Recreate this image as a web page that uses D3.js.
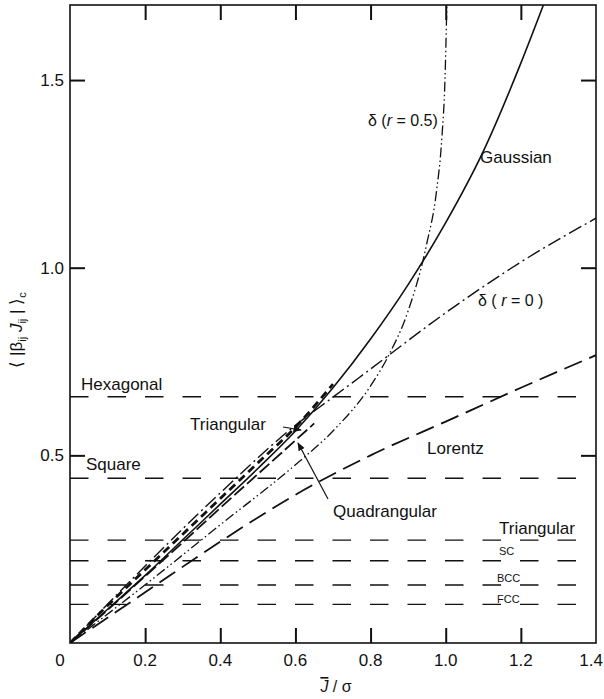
<!DOCTYPE html>
<html>
<head>
<meta charset="utf-8">
<script src="https://cdn.jsdelivr.net/npm/d3@7"></script>
<style>
  html, body { margin: 0; padding: 0; background: #fff; }
  svg { display: block; }
  text { font-family: "Liberation Sans", Arial, sans-serif; fill: #111; }
</style>
</head>
<body>
<svg id="chart" width="604" height="699"></svg>
<script>
// ---------------- data ----------------
const xTickValues = [0.2, 0.4, 0.6, 0.8, 1.0, 1.2];
const xTickLabels = ["0", "0.2", "0.4", "0.6", "0.8", "1.0", "1.2", "1.4"];
const xTickLabelValues = [0, 0.2, 0.4, 0.6, 0.8, 1.0, 1.2, 1.4];
const yTickValues = [0.5, 1.0, 1.5];
const yTickLabels = ["0.5", "1.0", "1.5"];

const latticeNames  = ["Hexagonal", "Square", "Triangular", "SC", "BCC", "FCC"];
const latticeValues = [0.656, 0.439, 0.274, 0.219, 0.1545, 0.103];

const gaussianX = [0, 0.1, 0.2, 0.3, 0.4, 0.5, 0.6, 0.7, 0.8, 0.9, 1.0, 1.1, 1.2, 1.26];
const gaussianY = [0, 0.09, 0.18, 0.275, 0.37, 0.465, 0.565, 0.68, 0.81, 0.955, 1.12, 1.31, 1.545, 1.7];

const deltaR05X = [0, 0.2, 0.4, 0.6, 0.7, 0.8, 0.85, 0.9, 0.95, 0.975, 0.99, 0.998, 1.003];
const deltaR05Y = [0, 0.155, 0.315, 0.475, 0.565, 0.685, 0.77, 0.885, 1.066, 1.2, 1.35, 1.5, 1.7];

const deltaR0X = [0, 0.2, 0.4, 0.6, 0.7, 0.8, 1.0, 1.2, 1.4];
const deltaR0Y = [0, 0.205, 0.4, 0.58, 0.655, 0.73, 0.88, 1.015, 1.132];

const lorentzX = [0, 0.2, 0.4, 0.6, 0.8, 1.0, 1.2, 1.4];
const lorentzY = [0, 0.135, 0.27, 0.395, 0.5, 0.59, 0.68, 0.767];

const triangularX = [0, 0.1, 0.2, 0.3, 0.4, 0.5, 0.6, 0.7];
const triangularY = [0, 0.1, 0.195, 0.29, 0.385, 0.48, 0.575, 0.69];

const quadrangularX = [0, 0.1, 0.2, 0.3, 0.4, 0.5, 0.6, 0.65];
const quadrangularY = [0, 0.088, 0.178, 0.268, 0.36, 0.45, 0.54, 0.585];

// ---------------- layout ----------------
const svg = d3.select("#chart");
const mLeft = 70, mRight = 596, mTop = 5, mBottom = 643;
const x = d3.scaleLinear().domain([0, 1.4]).range([mLeft, mRight]);
const y = d3.scaleLinear().domain([0, 1.7]).range([mBottom, mTop]);

const defs = svg.append("defs");
defs.append("clipPath").attr("id", "clip")
  .append("rect").attr("x", mLeft).attr("y", mTop)
  .attr("width", mRight - mLeft).attr("height", mBottom - mTop);

defs.append("marker")
  .attr("id", "arrow").attr("viewBox", "0 0 10 10")
  .attr("refX", 9).attr("refY", 5)
  .attr("markerWidth", 7).attr("markerHeight", 7)
  .attr("orient", "auto")
  .append("path").attr("d", "M0,1 L10,5 L0,9 z").attr("fill", "#111");

// axes (inward ticks)
const tickStyle = g => {
  g.select(".domain").remove();
  g.selectAll(".tick line").attr("stroke", "#111").attr("stroke-width", 2);
  g.selectAll(".tick text").remove();
};
svg.append("g").attr("transform", `translate(0,${mBottom})`)
  .call(d3.axisBottom(x).tickValues(xTickValues).tickSize(-15)).call(tickStyle);
svg.append("g").attr("transform", `translate(0,${mTop})`)
  .call(d3.axisTop(x).tickValues(xTickValues).tickSize(-15)).call(tickStyle);
svg.append("g").attr("transform", `translate(${mLeft},0)`)
  .call(d3.axisLeft(y).tickValues(yTickValues).tickSize(-15)).call(tickStyle);
svg.append("g").attr("transform", `translate(${mRight},0)`)
  .call(d3.axisRight(y).tickValues(yTickValues).tickSize(-15)).call(tickStyle);

// frame
svg.append("rect").attr("x", mLeft).attr("y", mTop)
  .attr("width", mRight - mLeft).attr("height", mBottom - mTop)
  .attr("fill", "none").attr("stroke", "#111").attr("stroke-width", 1.6);

// tick labels
const nX = xTickLabelValues.length;
svg.append("g").selectAll("text").data(xTickLabelValues).join("text")
  .attr("x", (d, i) => i === 0 ? x(d) - 10 : (i === nX - 1 ? 603 : x(d)))
  .attr("y", 666)
  .attr("text-anchor", (d, i) => i === nX - 1 ? "end" : "middle")
  .attr("font-size", 17)
  .text((d, i) => xTickLabels[i]);

svg.append("g").selectAll("text").data(yTickValues).join("text")
  .attr("x", 64)
  .attr("y", d => y(d) + 6)
  .attr("text-anchor", "end")
  .attr("font-size", 17)
  .text((d, i) => yTickLabels[i]);

// axis titles
const xt = svg.append("text").attr("x", 336).attr("y", 692)
  .attr("text-anchor", "middle").attr("font-size", 16);
xt.append("tspan").attr("font-style", "italic")
  .style("text-decoration", "overline").text("J");
xt.append("tspan").text(" / σ");

const yt = svg.append("text")
  .attr("transform", "translate(22,330) rotate(-90)")
  .attr("text-anchor", "middle").attr("font-size", 17);
yt.append("tspan").text("⟨ |β");
yt.append("tspan").attr("font-size", 11).attr("dy", 4).text("ij");
yt.append("tspan").attr("dy", -4).attr("font-style", "italic").text("  J");
yt.append("tspan").attr("font-size", 11).attr("dy", 4).text("ij");
yt.append("tspan").attr("dy", -4).text(" | ⟩");
yt.append("tspan").attr("font-size", 11).attr("dy", 4).text("c");

// lattice reference lines
const plot = svg.append("g").attr("clip-path", "url(#clip)");
plot.append("g").selectAll("line").data(latticeValues).join("line")
  .attr("x1", x(0)).attr("x2", x(1.352))
  .attr("y1", d => y(d)).attr("y2", d => y(d))
  .attr("stroke", "#111").attr("stroke-width", 1.4)
  .attr("stroke-dasharray", "18.5,19");

// curves
const line = d3.line().x(d => x(d[0])).y(d => y(d[1])).curve(d3.curveMonotoneX);
const series = [
  { xs: gaussianX, ys: gaussianY, dash: null, w: 1.6 },
  { xs: deltaR05X, ys: deltaR05Y, dash: "10,3,1.5,3,1.5,3", w: 1.3 },
  { xs: deltaR0X, ys: deltaR0Y, dash: "14,4,2,4", w: 1.4 },
  { xs: lorentzX, ys: lorentzY, dash: "19,8", w: 1.8 },
  { xs: triangularX, ys: triangularY, dash: "8,5", w: 2.8 },
  { xs: quadrangularX, ys: quadrangularY, dash: "13,4", w: 1.8 }
];
series.forEach(s => {
  plot.append("path")
    .datum(s.xs.map((v, i) => [v, s.ys[i]]))
    .attr("d", line)
    .attr("fill", "none")
    .attr("stroke", "#111")
    .attr("stroke-width", s.w)
    .attr("stroke-dasharray", s.dash);
});

// labels
const lab = (tx, ty, t, fs) => svg.append("text").attr("x", tx).attr("y", ty)
  .attr("font-size", fs || 17).text(t);
lab(81, 390, "Hexagonal");
lab(86, 470, "Square");
lab(190, 430, "Triangular");
lab(333, 517, "Quadrangular");
lab(427, 454, "Lorentz");
lab(480, 163, "Gaussian");
lab(499, 534, "Triangular", 17);
lab(499, 555, "SC", 11);
lab(497, 582, "BCC", 11);
lab(497, 603, "FCC", 11);

const d05 = svg.append("text").attr("x", 368).attr("y", 126).attr("font-size", 16);
d05.append("tspan").text("δ (");
d05.append("tspan").attr("font-style", "italic").text("r");
d05.append("tspan").text(" = 0.5)");
const d0 = svg.append("text").attr("x", 478).attr("y", 306).attr("font-size", 16);
d0.append("tspan").text("δ ( ");
d0.append("tspan").attr("font-style", "italic").text("r");
d0.append("tspan").text(" = 0 )");

// arrows
svg.append("line").attr("x1", 283).attr("y1", 427).attr("x2", 301).attr("y2", 430)
  .attr("stroke", "#111").attr("stroke-width", 1.2).attr("marker-end", "url(#arrow)");
svg.append("line").attr("x1", 328).attr("y1", 499).attr("x2", 298).attr("y2", 443)
  .attr("stroke", "#111").attr("stroke-width", 1.2).attr("marker-end", "url(#arrow)");
</script>
</body>
</html>
